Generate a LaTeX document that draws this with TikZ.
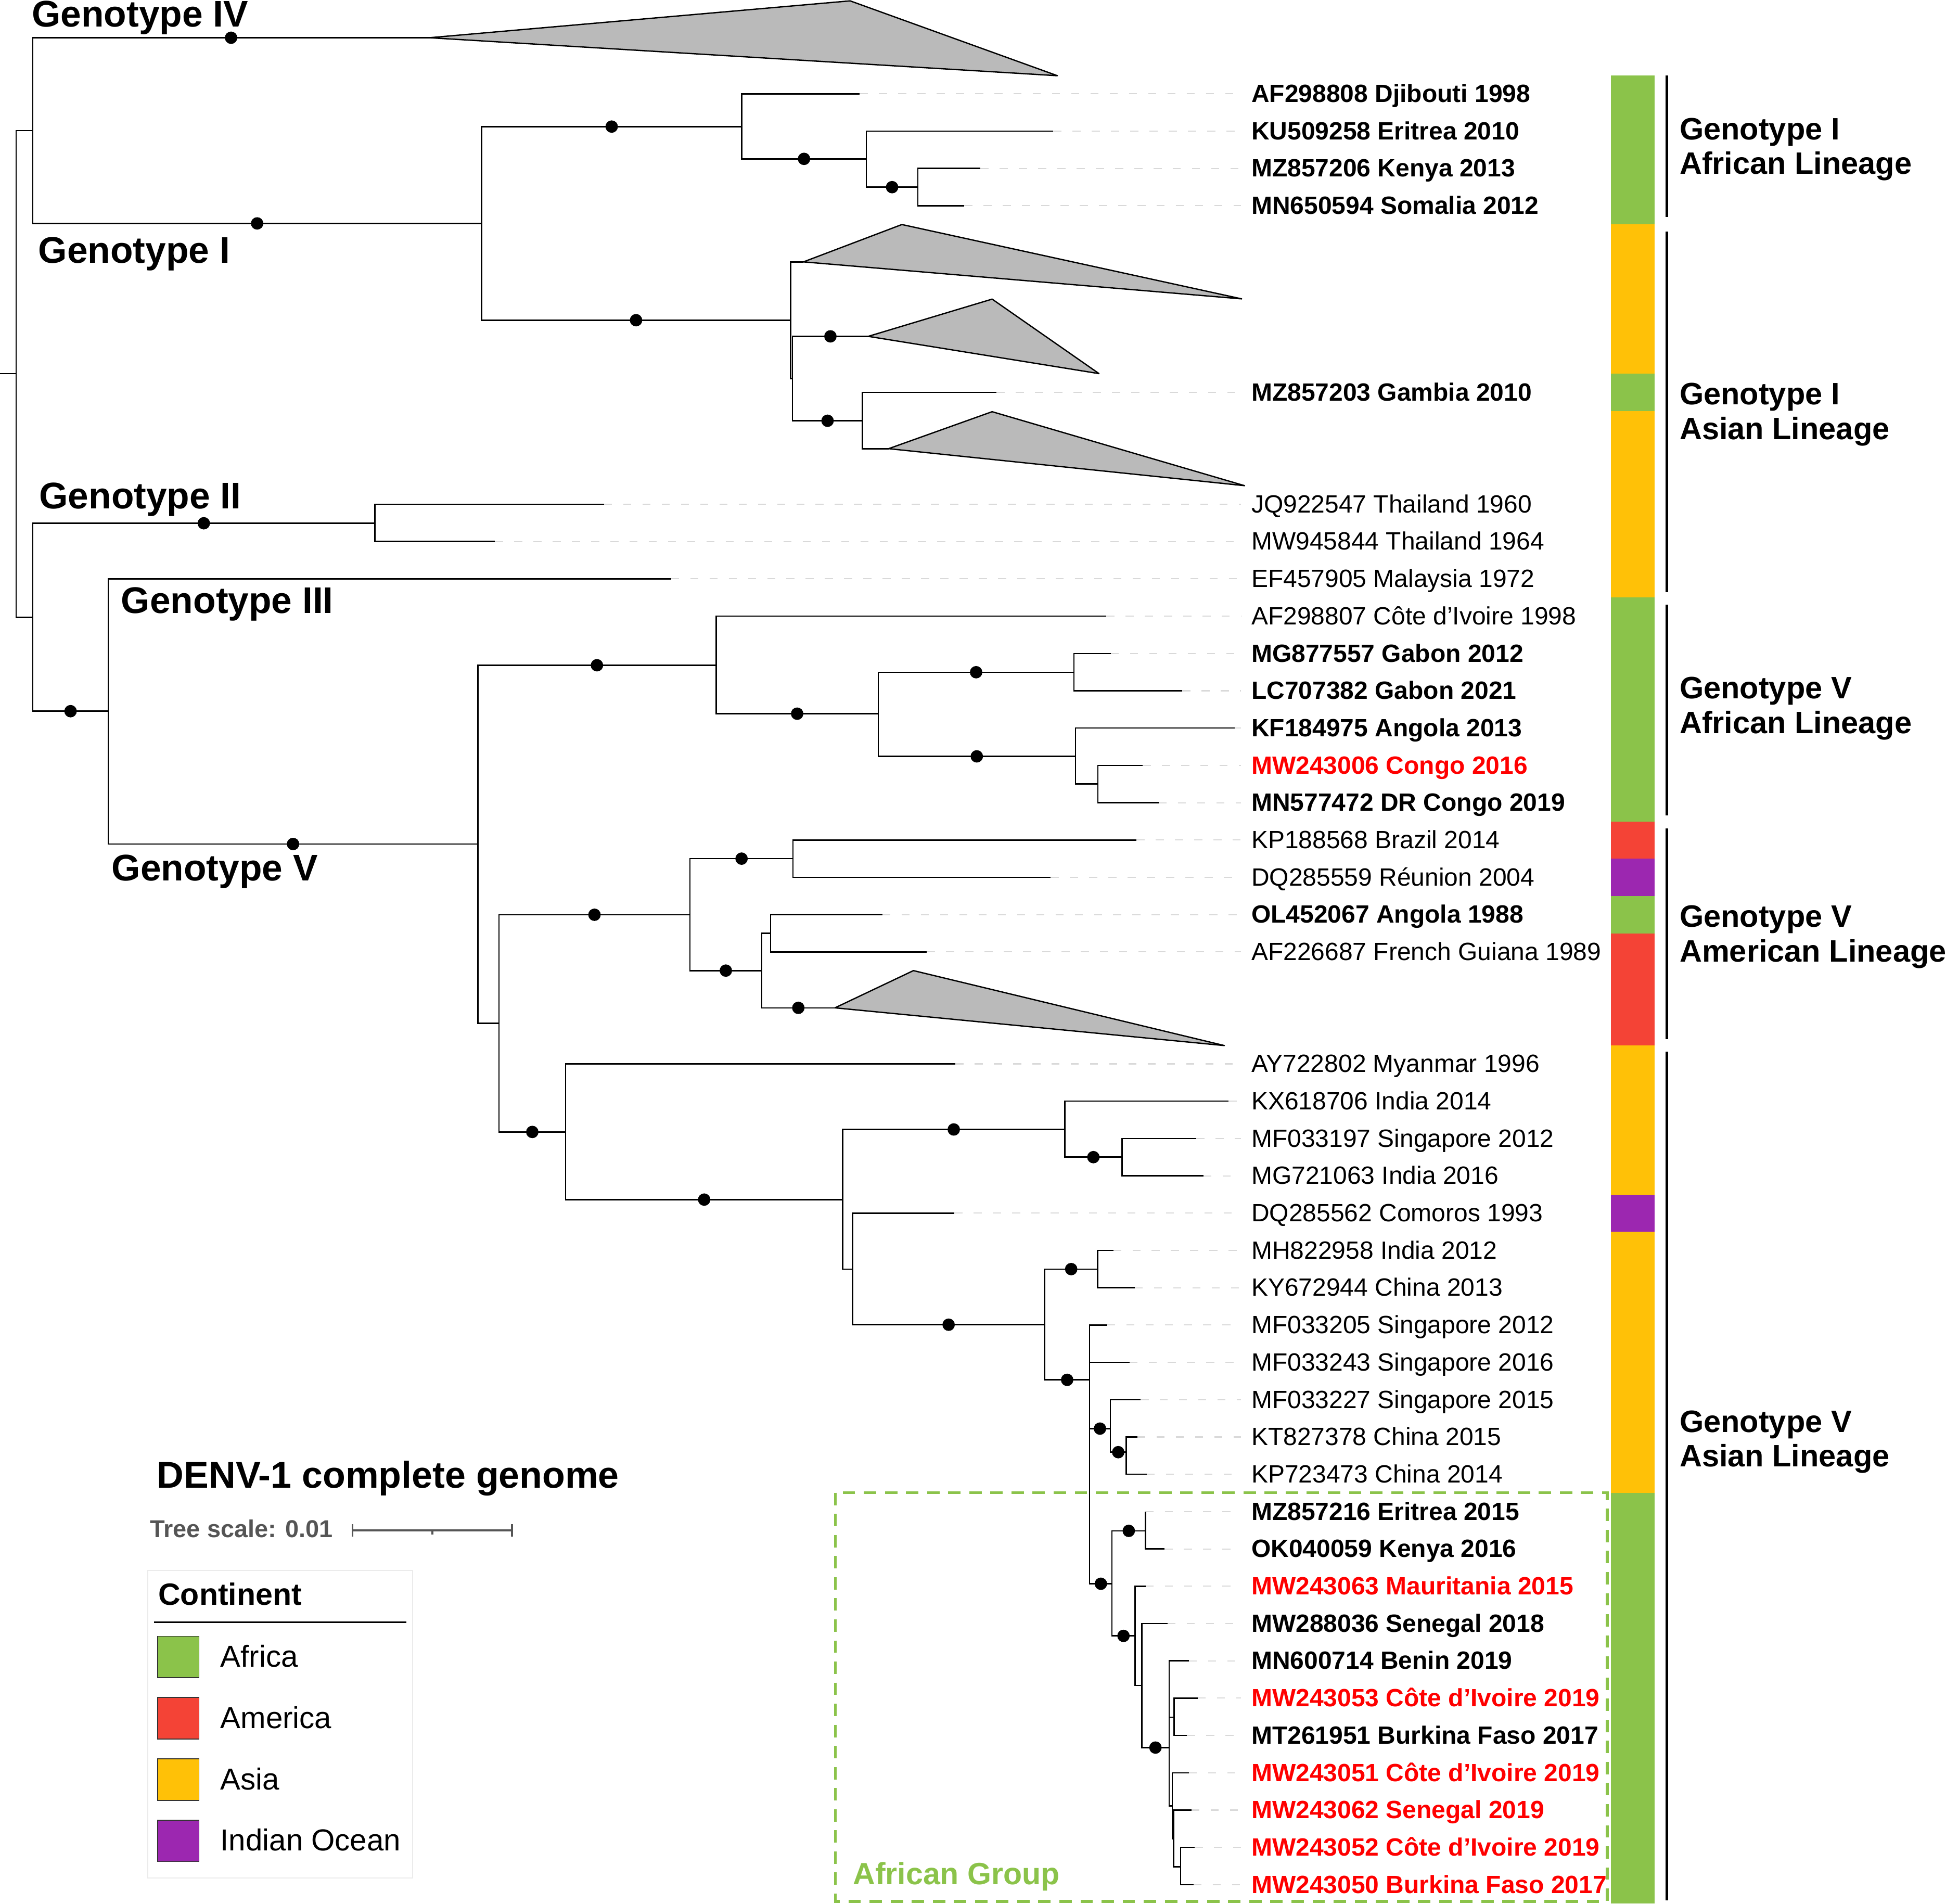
\documentclass[tikz,border=0pt]{standalone}
\usepackage{fontspec}
\setmainfont{Liberation Sans}
\usetikzlibrary{calc}
\definecolor{africa}{HTML}{8BC34A}
\definecolor{america}{HTML}{F44336}
\definecolor{asia}{HTML}{FFC107}
\definecolor{indian}{HTML}{9C27B0}
\definecolor{scalegray}{HTML}{555555}
\tikzset{
  branch/.style={line width=0.6pt},
  supp/.style={circle,fill=black,inner sep=0pt,minimum size=0.2cm},
  leader/.style={gray!30,line width=0.5pt,dash pattern=on 0.13cm off 0.18cm},
  clade/.style={draw=black,fill=black!27,line width=0.6pt,line join=round},
  leaf/.style={anchor=base west,inner xsep=0.16cm,inner ysep=0pt,font=\fontsize{11.45}{13}\selectfont},
  bleaf/.style={leaf,font=\fontsize{11.45}{13}\selectfont\bfseries},
  rleaf/.style={bleaf,text=red},
  geno/.style={anchor=base west,inner sep=0pt,font=\fontsize{17}{19}\selectfont\bfseries},
  lineage/.style={anchor=west,align=left,inner sep=0pt,font=\fontsize{14.2}{15.9}\selectfont\bfseries},
  lbar/.style={line width=1.1pt},
  key/.style={draw=black!80,line width=0.4pt,minimum size=0.668cm,inner sep=0pt},
  keylab/.style={anchor=base west,inner sep=0pt,font=\fontsize{13.9}{16}\selectfont},
}
\begin{document}
\begin{tikzpicture}[x=0.02cm,y=-0.02cm]
\useasboundingbox (0,0) rectangle (1568,1534);
% continent strip
\foreach \a/\b/\c in {0/3/africa,4/7/asia,8/8/africa,9/13/asia,14/19/africa,20/20/america,21/21/indian,22/22/africa,23/25/america,26/29/asia,30/30/indian,31/37/asia,38/48/africa}
  \fill[\c] (1298,{60.6+30.06*\a}) rectangle (1333.4,{60.6+30.06*(\b+1)});
% leaves
\foreach \r/\x/\s/\t in {0/692.7/bleaf/AF298808 Djibouti 1998,1/848.7/bleaf/KU509258 Eritrea 2010,
  2/790/bleaf/MZ857206 Kenya 2013,3/777/bleaf/MN650594 Somalia 2012,8/803/bleaf/MZ857203 Gambia 2010,
  11/486.7/leaf/JQ922547 Thailand 1960,12/398.8/leaf/MW945844 Thailand 1964,13/540.7/leaf/EF457905 Malaysia 1972,
  14/891.4/leaf/AF298807 Côte d’Ivoire 1998,15/895/bleaf/MG877557 Gabon 2012,16/952.6/bleaf/LC707382 Gabon 2021,
  17/995/bleaf/KF184975 Angola 2013,18/920.7/rleaf/MW243006 Congo 2016,19/933.6/bleaf/MN577472 DR Congo 2019,
  20/915.7/leaf/KP188568 Brazil 2014,21/846.6/leaf/DQ285559 Réunion 2004,22/711/bleaf/OL452067 Angola 1988,
  23/746.8/leaf/AF226687 French Guiana 1989,26/769.8/leaf/AY722802 Myanmar 1996,27/990/leaf/KX618706 India 2014,
  28/964/leaf/MF033197 Singapore 2012,29/969.6/leaf/MG721063 India 2016,30/769/leaf/DQ285562 Comoros 1993,
  31/897/leaf/MH822958 India 2012,32/914.3/leaf/KY672944 China 2013,33/892/leaf/MF033205 Singapore 2012,
  34/910/leaf/MF033243 Singapore 2016,35/919/leaf/MF033227 Singapore 2015,36/916.4/leaf/KT827378 China 2015,
  37/924/leaf/KP723473 China 2014,38/923/bleaf/MZ857216 Eritrea 2015,39/938.4/bleaf/OK040059 Kenya 2016,
  40/923/rleaf/MW243063 Mauritania 2015,41/940.7/bleaf/MW288036 Senegal 2018,42/957.8/bleaf/MN600714 Benin 2019,
  43/965/rleaf/MW243053 Côte d’Ivoire 2019,44/956.4/bleaf/MT261951 Burkina Faso 2017,
  45/957.8/rleaf/MW243051 Côte d’Ivoire 2019,46/960/rleaf/MW243062 Senegal 2019,
  47/962.7/rleaf/MW243052 Côte d’Ivoire 2019,48/961.6/rleaf/MW243050 Burkina Faso 2017}{
  \coordinate (l\r) at (\x,{75.6+30.06*\r});
  \node[\s] (n\r) at (1000,{82.4+30.06*\r}) {\t};
  \draw[leader] (l\r) -- (l\r -| n\r.west);
}
% internal nodes
\coordinate (stub) at (0,301);
\coordinate (root) at (13,301);
\coordinate (nA) at (26.4,105.2);
\coordinate (nB) at (26.4,497.5);
\coordinate (g4) at (346,30.4);
\coordinate (g1) at (388,180);
\coordinate (g1a) at (597.7,102);
\coordinate (a1) at (698,128);
\coordinate (a2) at (739.6,150.8);
\coordinate (g1s) at (637,258);
\coordinate (t1) at (647.4,211);
\coordinate (s1) at (638.6,305);
\coordinate (t2) at (699.6,271);
\coordinate (s2) at (695,339);
\coordinate (t3) at (716,361.5);
\coordinate (g2) at (302,421.6);
\coordinate (g35) at (87.3,573);
\coordinate (g5) at (385,680);
\coordinate (v1) at (577,536);
\coordinate (v3) at (707.6,575);
\coordinate (v4) at (865.4,541.6);
\coordinate (v5) at (866.5,609.4);
\coordinate (v6) at (884.6,631.7);
\coordinate (v2) at (402,824.4);
\coordinate (m1) at (556,737);
\coordinate (m2) at (639,691.8);
\coordinate (m3) at (613.7,782);
\coordinate (m4) at (621,752);
\coordinate (t4) at (672.8,812);
\coordinate (m5) at (455.8,912);
\coordinate (m6) at (679,966.5);
\coordinate (m7) at (858,910);
\coordinate (m9) at (904,932.3);
\coordinate (m8) at (687,1022.5);
\coordinate (m10) at (841.7,1067.3);
\coordinate (m11) at (884.5,1022.5);
\coordinate (m12) at (878,1111.7);
\coordinate (m13) at (894.6,1151);
\coordinate (m15) at (907.4,1170);
\coordinate (m14) at (896,1276);
\coordinate (m16) at (923,1233.4);
\coordinate (m17) at (914.5,1318);
\coordinate (m18) at (920,1358);
\coordinate (m19) at (942,1408);
\coordinate (m20) at (946,1383.6);
\coordinate (m21) at (944.6,1455);
\coordinate (m22) at (945.6,1481.4);
\coordinate (m23) at (951.2,1504);
% branches
\draw[branch] (stub) -- (root);
\foreach \p/\c in {root/nA,root/nB,g1a/l0,a1/l1,a2/l2,a2/l3,g1s/t1,g1s/s1,s2/l8,s2/t3,g2/l11,g2/l12,
  g35/l13,g5/v2,v1/l14,v4/l15,v4/l16,v5/l17,v5/v6,v6/l18,v6/l19,m2/l20,m2/l21,m3/m4,m4/l22,m4/l23,
  m5/l26,m6/m8,m7/l27,m9/l28,m9/l29,m8/l30,m11/l31,m11/l32,m12/l33,m12/l34,m13/l35,m15/l36,m15/l37,
  m16/l38,m16/l39,m17/l40,m17/m18,m18/l41,m19/l42,m19/m20,m19/m21,m20/l43,m20/l44,m21/l45,m21/m22,
  m22/l46,m22/m23,m23/l47,m23/l48}
  \draw[branch] (\p) |- (\c);
% branches with support
\foreach \p/\c in {nA/g4,nA/g1,g1/g1a,g1/g1s,g1a/a1,a1/a2,s1/t2,s1/s2,nB/g2,nB/g35,g35/g5,g5/v1,
  v1/v3,v3/v4,v3/v5,v2/m1,v2/m5,m1/m2,m1/m3,m3/t4,m5/m6,m6/m7,m7/m9,m8/m10,m10/m11,m10/m12,
  m12/m13,m12/m14,m13/m15,m14/m16,m14/m17,m18/m19}
  \draw[branch] (\p) |- (\c) node[pos=.75,supp]{};
% collapsed clades
\draw[clade] (g4) -- (685,0.7) -- (852,61) -- cycle;
\draw[clade] (t1) -- (726.7,180.9) -- (1000.5,240.8) -- cycle;
\draw[clade] (t2) -- (799.4,241) -- (885.5,301) -- cycle;
\draw[clade] (t3) -- (799.4,331.7) -- (1002.8,391.3) -- cycle;
\draw[clade] (t4) -- (736,782) -- (986.5,842.4) -- cycle;
% genotype names
\node[geno] (gIV) at (25.4,21.7) {Genotype IV};
\node[geno] (gI) at (30.6,212) {Genotype I};
\node[geno] (gII) at (31.3,409.7) {Genotype II};
\node[geno] (gIII) at (97.3,494) {Genotype III};
\node[geno] (gV) at (89.7,709.6) {Genotype V};
% lineages
\foreach \a/\b in {60.8/174.8,186.5/477,487/657,667.6/837.4,847.5/1531}
  \draw[lbar] (1343,\a) -- (1343,\b);
\node[lineage] (lin1) at (1353,120.3) {Genotype I\\African Lineage};
\node[lineage] (lin2) at (1353,333.9) {Genotype I\\Asian Lineage};
\node[lineage] (lin3) at (1353,570.7) {Genotype V\\African Lineage};
\node[lineage] (lin4) at (1353,754.8) {Genotype V\\American Lineage};
\node[lineage] (lin5) at (1353,1161.8) {Genotype V\\Asian Lineage};
% african group
\draw[africa,line width=1.3pt,dash pattern=on 0.2cm off 0.14cm] (673,1202.7) rectangle (1295,1532);
\node[anchor=base west,inner sep=0pt,text=africa,font=\fontsize{14.1}{16}\selectfont\bfseries] (afgrp) at (687,1518.4) {African Group};
% title and scale
\node[anchor=base west,inner sep=0pt,font=\fontsize{17.1}{20}\selectfont\bfseries] (title) at (126.2,1199) {DENV-1 complete genome};
\node[anchor=base west,inner sep=0pt,text=scalegray,font=\fontsize{11.2}{13}\selectfont\bfseries] (tscale) at (120.6,1238.8) {Tree scale: 0.01};
\draw[scalegray,line width=0.9pt] (284,1228) -- (284,1238) (284,1233) -- (412.6,1233) (412.6,1228) -- (412.6,1238) (348.3,1233) -- (348.3,1236.5);
% legend
\draw[black!8,line width=0.5pt] (119,1265.4) rectangle (332.6,1513);
\node[anchor=base west,inner sep=0pt,font=\fontsize{14.1}{16}\selectfont\bfseries] (cont) at (127.2,1293) {Continent};
\draw[line width=0.6pt] (124,1307) -- (327.5,1307);
\foreach \i/\c/\t in {0/africa/Africa,1/america/America,2/asia/Asia,3/indian/Indian Ocean}{
  \node[key,fill=\c] (k\i) at (143.6,{1335+49.4*\i}) {};
  \node[keylab] (kl\i) at (177.3,{1343+49.4*\i}) {\t};
}
\end{tikzpicture}
\end{document}
